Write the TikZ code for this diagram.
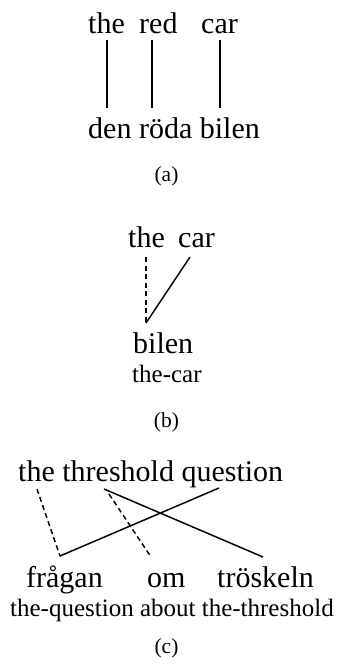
\documentclass[tikz,border=0pt]{standalone}
\usepackage{fontspec}
\setmainfont{Liberation Serif}
\begin{document}
\begin{tikzpicture}[x=1pt,y=-1pt,
  word/.style={inner sep=0pt,anchor=base west,font=\fontsize{30}{34}\selectfont},
  gloss/.style={inner sep=0pt,anchor=base west,font=\fontsize{25}{29}\selectfont},
  caption/.style={inner sep=0pt,anchor=base,font=\fontsize{21.5}{25}\selectfont},
  link/.style={line width=1.5pt},
  weak/.style={line width=1.5pt,dash pattern=on 5pt off 3.5pt}]
\useasboundingbox (0,0) rectangle (337,667);
% (a)
\node[word] (a1) at (88,33) {the};
\node[word] (a2) at (139,33) {red};
\node[word] (a3) at (201,33) {car};
\node[word] (ab) at (88,138) {den röda bilen};
\node[caption] (ca) at (166.5,181) {(a)};
\coordinate (a1t) at (107,40); \coordinate (a1b) at (107,108);
\coordinate (a2t) at (152,40); \coordinate (a2b) at (152,108);
\coordinate (a3t) at (220,40); \coordinate (a3b) at (220,108);
\draw[link] (a1t) -- (a1b);
\draw[link] (a2t) -- (a2b);
\draw[link] (a3t) -- (a3b);
% (b)
\node[word] (b1) at (128,247) {the};
\node[word] (b2) at (178,247) {car};
\node[word] (bb) at (133,353) {bilen};
\node[gloss] (bg) at (132,382) {the-car};
\node[caption] (cb) at (166.5,427) {(b)};
\coordinate (b1t) at (146,257);
\coordinate (b2t) at (190,257);
\coordinate (bbt) at (146,323);
\draw[weak] (b1t) -- (bbt);
\draw[link] (b2t) -- (bbt);
% (c)
\node[word] (c1) at (18,481) {the threshold question};
\node[word] (d1) at (26,587) {frågan};
\node[word] (d2) at (147,587) {om};
\node[word] (d3) at (217,587) {tröskeln};
\node[gloss] (cg) at (10,616) {the-question about the-threshold};
\node[caption] (cc) at (166.5,653) {(c)};
\coordinate (theT) at (37,489);
\coordinate (thrT) at (104,489);
\coordinate (thrT2) at (109,494);
\coordinate (queT) at (219,488);
\coordinate (fraB) at (60,556);
\coordinate (omB) at (151,557);
\coordinate (troB) at (263,557);
\draw[weak] (theT) -- (fraB);
\draw[link] (fraB) -- (queT);
\draw[link] (thrT) -- (troB);
\draw[weak] (thrT2) -- (omB);
\end{tikzpicture}
\end{document}
